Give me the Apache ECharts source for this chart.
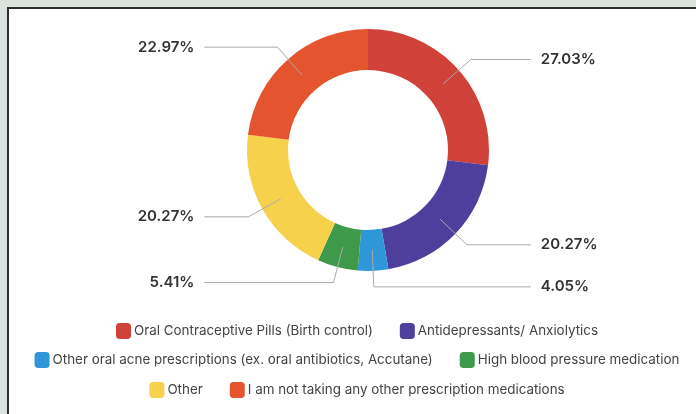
<!DOCTYPE html>
<html>
<head>
<meta charset="utf-8">
<script src="https://cdn.jsdelivr.net/npm/echarts@6/dist/echarts.min.js"></script>
<style>
  html, body { margin: 0; padding: 0; background: #dce3df; overflow: hidden; }
  /* a bit wider than the window so the centred legend sits where the original has it */
  #chart { width: 714px; height: 414px; }
</style>
</head>
<body>
<div id="chart"></div>
<script>
// answers, in chart order (clockwise from the top)
var names = [
    'Oral Contraceptive Pills (Birth control)',
    'Antidepressants/ Anxiolytics',
    'Other oral acne prescriptions (ex. oral antibiotics, Accutane)',
    'High blood pressure medication',
    'Other',
    'I am not taking any other prescription medications'
];
var counts = [20, 15, 3, 4, 15, 17];
var colors = ['#d0413a', '#4f3f9d', '#2f96d8', '#3e9a4a', '#f6d14b', '#e4542f'];

var legendRows = [[0, 1], [2, 3], [4, 5]];
var legendTops = [318, 347, 377];

var pieData = names.map(function (n, i) {
    return { name: n, value: counts[i] };
});

var legends = legendRows.map(function (row, k) {
    return {
        top: legendTops[k],
        left: 'center',
        icon: 'roundRect',
        itemWidth: 15,
        itemHeight: 16,
        itemGap: 27,
        selectedMode: false,
        data: row.map(function (i) { return names[i]; }),
        textStyle: {
            fontFamily: 'Inter',
            fontSize: 13.4,
            color: '#444',
            padding: [0, 0, 0, -2]
        }
    };
});

var myChart = echarts.init(document.getElementById('chart'));
var option = {
    backgroundColor: '#dce3df',
    color: colors,
    animation: false,
    graphic: [{
        type: 'rect',
        z: -10,
        shape: { x: 8, y: 8, width: 720, height: 420 },
        style: { fill: '#fff', stroke: '#2e2e2e', lineWidth: 2 }
    }],
    legend: legends,
    series: [{
        type: 'pie',
        z: 2,
        center: [368, 150],
        radius: [80, 121],
        startAngle: 90,
        silent: true,
        label: { show: false },
        labelLine: { show: false },
        data: pieData
    }, {
        // transparent copy, only for the labels, so the lines start mid-ring
        type: 'pie',
        z: 3,
        center: [368, 150],
        radius: [0, 100],
        startAngle: 90,
        silent: true,
        itemStyle: { color: 'rgba(0,0,0,0)' },
        emphasis: { disabled: true },
        label: {
            formatter: '{d}%',
            alignTo: 'labelLine',
            distanceToLabelLine: 10,
            fontFamily: 'Inter',
            fontSize: 15,
            fontWeight: 600,
            color: '#333'
        },
        labelLine: {
            length: 37,
            length2: 52,
            lineStyle: { color: '#aaaaaa', width: 1 }
        },
        // nudge the label ends a little to the right, like the original
        labelLayout: function (params) {
            var pts = params.labelLinePoints;
            if (!pts) return {};
            pts = pts.map(function (p) { return p.slice(); });
            pts[2][0] += 8;
            return { dx: 8, labelLinePoints: pts };
        },
        data: pieData
    }]
};
myChart.setOption(option);
</script>
</body>
</html>
